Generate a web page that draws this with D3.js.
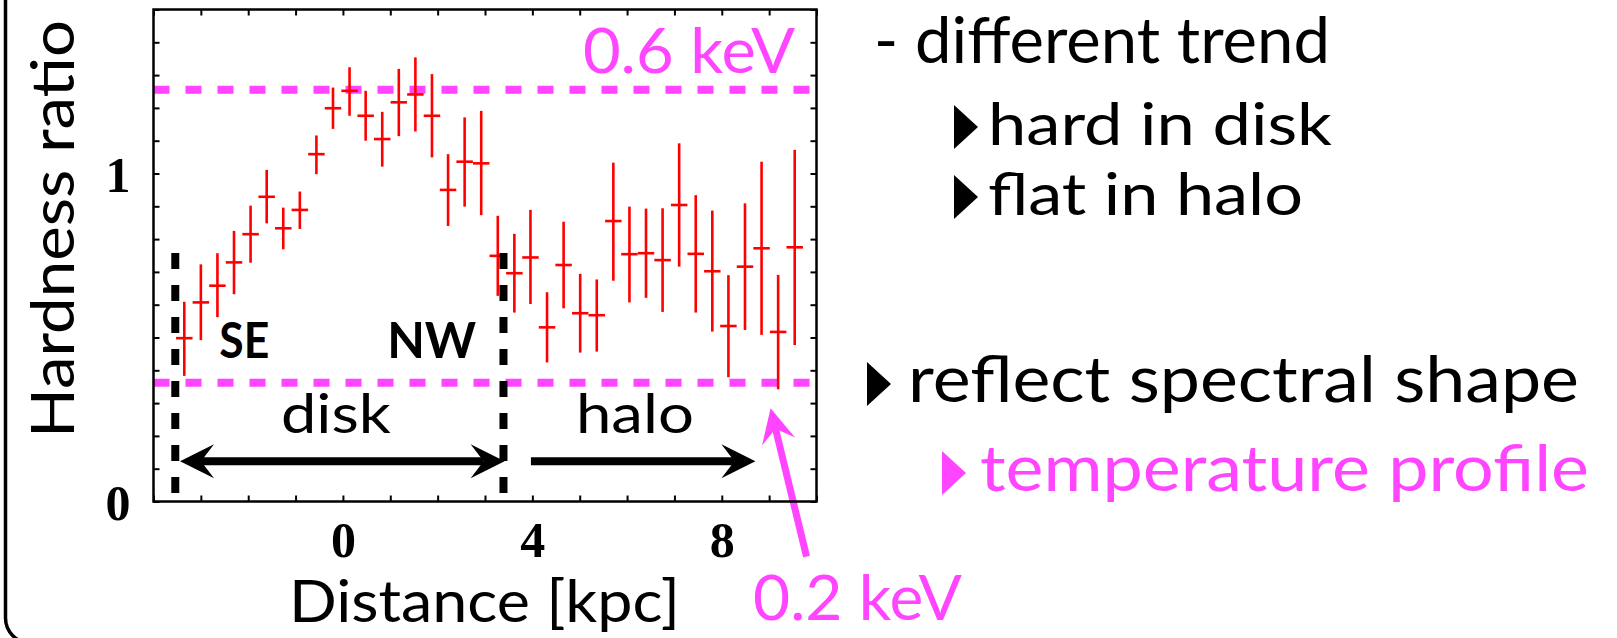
<!DOCTYPE html>
<html>
<head>
<meta charset="utf-8">
<script src="https://cdn.jsdelivr.net/npm/d3@7"></script>
<style>
  html, body { margin: 0; padding: 0; background: #ffffff; }
  svg { display: block; }
</style>
</head>
<body>
<svg id="chart" width="1617" height="638"></svg>
<script>
// Hardness ratio profile across the galaxy (SE -> NW, disk -> halo)
const distance = [-3.35, -3.00, -2.65, -2.30, -1.95, -1.61, -1.26, -0.91, -0.56, -0.21,
                   0.14,  0.48,  0.83,  1.18,  1.53,  1.88,  2.22,  2.57,  2.92,  3.27,
                   3.62,  3.96,  4.31,  4.66,  5.01,  5.36,  5.71,  6.05,  6.40,  6.75,
                   7.10,  7.45,  7.80,  8.14,  8.49,  8.84,  9.19,  9.54];
const binHalfWidth = 0.174;
const hardness = [0.498, 0.607, 0.658, 0.729, 0.815, 0.929, 0.833, 0.889, 1.059, 1.199,
                  1.252, 1.176, 1.105, 1.217, 1.241, 1.176, 0.950, 1.036, 1.031, 0.749,
                  0.696, 0.744, 0.531, 0.721, 0.574, 0.568, 0.855, 0.754, 0.757, 0.736,
                  0.904, 0.755, 0.702, 0.535, 0.716, 0.772, 0.517, 0.775];
const hardnessLow = [0.383, 0.492, 0.562, 0.632, 0.728, 0.848, 0.769, 0.831, 0.998, 1.136,
                     1.176, 1.100, 1.021, 1.114, 1.128, 1.049, 0.840, 0.899, 0.873, 0.627,
                     0.576, 0.602, 0.424, 0.589, 0.454, 0.457, 0.673, 0.607, 0.621, 0.578,
                     0.716, 0.576, 0.518, 0.379, 0.523, 0.508, 0.342, 0.477];
const hardnessHigh = [0.609, 0.723, 0.757, 0.825, 0.902, 1.011, 0.896, 0.945, 1.116, 1.262,
                      1.324, 1.252, 1.188, 1.319, 1.354, 1.303, 1.059, 1.171, 1.191, 0.871,
                      0.816, 0.889, 0.638, 0.853, 0.694, 0.677, 1.033, 0.899, 0.893, 0.894,
                      1.092, 0.934, 0.887, 0.690, 0.909, 1.036, 0.691, 1.072];

// Reference levels for plasma temperatures
const levelValues = [1.255, 0.362];
const levelLabels = ["0.6 keV", "0.2 keV"];

// Region boundaries (kpc)
const boundaries = [-3.54, 3.39];

// Axis ticks
const xTickValues = [-4, -3, -2, -1, 0, 1, 2, 3, 4, 5, 6, 7, 8, 9, 10];
const xTickLabels = [0, 4, 8];
const yTickValues = [0, 0.1, 0.2, 0.3, 0.4, 0.5, 0.6, 0.7, 0.8, 0.9, 1.0, 1.1, 1.2, 1.3, 1.4, 1.5];
const yTickLabels = [0, 1];

const PINK = "#ff45ff";
const RED = "#ff0000";
const SANS = "Lato, 'Open Sans', 'DejaVu Sans', sans-serif";
const SERIF = "'Liberation Serif', 'DejaVu Serif', serif";

const svg = d3.select("#chart");

const x = d3.scaleLinear().domain([-4, 10]).range([153.5, 816.5]);
const y = d3.scaleLinear().domain([0, 1.5]).range([501.5, 9.5]);

// rounded slide box at the left
svg.append("rect")
  .attr("x", 5.5).attr("y", -40)
  .attr("width", 1800).attr("height", 683)
  .attr("rx", 25).attr("ry", 25)
  .attr("fill", "none").attr("stroke", "#000").attr("stroke-width", 3.5);

const plot = svg.append("g");

// temperature reference levels
plot.selectAll("line.level")
  .data(levelValues)
  .join("line")
  .attr("class", "level")
  .attr("x1", x(-4)).attr("x2", x(10))
  .attr("y1", d => y(d)).attr("y2", d => y(d))
  .attr("stroke", PINK).attr("stroke-width", 8)
  .attr("stroke-dasharray", "16 16");

// error bars
const bars = plot.append("g");
distance.forEach((d, i) => {
  bars.append("line")
    .attr("x1", x(d)).attr("x2", x(d))
    .attr("y1", y(hardnessLow[i])).attr("y2", y(hardnessHigh[i]))
    .attr("stroke", RED).attr("stroke-width", 2.6);
  bars.append("line")
    .attr("x1", x(d - binHalfWidth)).attr("x2", x(d + binHalfWidth))
    .attr("y1", y(hardness[i])).attr("y2", y(hardness[i]))
    .attr("stroke", RED).attr("stroke-width", 2.6);
});

// disk / halo boundaries
plot.selectAll("line.bound")
  .data(boundaries)
  .join("line")
  .attr("class", "bound")
  .attr("x1", d => x(d)).attr("x2", d => x(d))
  .attr("y1", y(0.758)).attr("y2", y(0.026))
  .attr("stroke", "#000").attr("stroke-width", 8)
  .attr("stroke-dasharray", "16 16");

// arrow helper: head polygon with swept-back barbs
function headPoints(tip, from, len, half, notch) {
  const dx = tip[0] - from[0], dy = tip[1] - from[1];
  const L = Math.hypot(dx, dy);
  const ux = dx / L, uy = dy / L, px = -uy, py = ux;
  const bx = tip[0] - ux * len, by = tip[1] - uy * len;
  const n = [tip[0] - ux * notch, tip[1] - uy * notch];
  return {
    poly: [tip, [bx + px * half, by + py * half], n, [bx - px * half, by - py * half]],
    notch: n
  };
}
function drawArrow(g, from, to, color, width, both) {
  const hTo = headPoints(to, from, 34, 17, 21);
  let start = from;
  if (both) {
    const hFrom = headPoints(from, to, 34, 17, 21);
    g.append("polygon").attr("points", hFrom.poly.map(p => p.join(",")).join(" ")).attr("fill", color);
    start = hFrom.notch;
  }
  g.append("line")
    .attr("x1", start[0]).attr("y1", start[1])
    .attr("x2", hTo.notch[0]).attr("y2", hTo.notch[1])
    .attr("stroke", color).attr("stroke-width", width);
  g.append("polygon").attr("points", hTo.poly.map(p => p.join(",")).join(" ")).attr("fill", color);
}

const ann = svg.append("g");
drawArrow(ann, [x(-3.44), y(0.123)], [x(3.414), y(0.123)], "#000", 8, true);
drawArrow(ann, [x(3.97), y(0.123)], [x(8.71), y(0.123)], "#000", 8, false);
drawArrow(ann, [x(9.79), y(-0.168)], [x(9.03), y(0.284)], PINK, 7, false);

// region labels
ann.append("text").text("disk")
  .attr("x", x(-0.148)).attr("y", y(0.209))
  .attr("text-anchor", "middle")
  .attr("font-family", SANS).attr("font-size", 55)
  .attr("textLength", 110).attr("lengthAdjust", "spacingAndGlyphs");
ann.append("text").text("halo")
  .attr("x", x(6.166)).attr("y", y(0.209))
  .attr("text-anchor", "middle")
  .attr("font-family", SANS).attr("font-size", 55)
  .attr("textLength", 118).attr("lengthAdjust", "spacingAndGlyphs");
ann.append("text").text("SE")
  .attr("x", x(-2.612)).attr("y", y(0.4366))
  .attr("font-family", SANS).attr("font-weight", "bold").attr("font-size", 50)
  .attr("textLength", 50).attr("lengthAdjust", "spacingAndGlyphs");
ann.append("text").text("NW")
  .attr("x", x(0.935)).attr("y", y(0.4366))
  .attr("font-family", SANS).attr("font-weight", "bold").attr("font-size", 50)
  .attr("textLength", 89).attr("lengthAdjust", "spacingAndGlyphs");

// level labels
ann.append("text").text(levelLabels[0])
  .attr("x", x(9.544)).attr("y", y(1.306))
  .attr("text-anchor", "end")
  .attr("font-family", SANS).attr("font-size", 62).attr("fill", PINK)
  .attr("textLength", 212).attr("lengthAdjust", "spacingAndGlyphs");
ann.append("text").text(levelLabels[1])
  .attr("x", 753).attr("y", 620)
  .attr("font-family", SANS).attr("font-size", 62).attr("fill", PINK)
  .attr("textLength", 209).attr("lengthAdjust", "spacingAndGlyphs");

// axes with inward ticks on all four sides
function styleAxis(g) {
  g.select(".domain").remove();
  g.selectAll(".tick line").attr("stroke", "#000").attr("stroke-width", 2);
  g.selectAll(".tick text")
    .attr("font-family", SERIF).attr("font-weight", "bold")
    .attr("font-size", 50).attr("fill", "#000");
}
const fmtX = d => xTickLabels.includes(d) ? String(d) : "";
const fmtY = d => yTickLabels.includes(d) ? String(d) : "";

svg.append("g").attr("transform", `translate(0,${y(0)})`)
  .call(d3.axisBottom(x).tickValues(xTickValues).tickSizeInner(-6).tickSizeOuter(0)
        .tickPadding(20).tickFormat(fmtX))
  .call(styleAxis);
svg.append("g").attr("transform", `translate(0,${y(1.5)})`)
  .call(d3.axisTop(x).tickValues(xTickValues).tickSizeInner(-6).tickSizeOuter(0).tickFormat(""))
  .call(styleAxis);
svg.append("g").attr("transform", `translate(${x(-4)},0)`)
  .call(d3.axisLeft(y).tickValues(yTickValues).tickSizeInner(-6).tickSizeOuter(0)
        .tickPadding(23).tickFormat(fmtY))
  .call(styleAxis)
  .call(g => g.selectAll(".tick text").attr("dy", "0.36em"));
svg.append("g").attr("transform", `translate(${x(10)},0)`)
  .call(d3.axisRight(y).tickValues(yTickValues).tickSizeInner(-6).tickSizeOuter(0).tickFormat(""))
  .call(styleAxis);

// plot frame
svg.append("rect")
  .attr("x", x(-4)).attr("y", y(1.5))
  .attr("width", x(10) - x(-4)).attr("height", y(0) - y(1.5))
  .attr("fill", "none").attr("stroke", "#000").attr("stroke-width", 2.5);

// axis titles
svg.append("text").text("Distance [kpc]")
  .attr("x", 289).attr("y", 621.7)
  .attr("font-family", SANS).attr("font-size", 58)
  .attr("textLength", 391).attr("lengthAdjust", "spacingAndGlyphs");
svg.append("text").text("Hardness ratio")
  .attr("transform", "translate(74,229) rotate(-90)")
  .attr("text-anchor", "middle")
  .attr("font-family", SANS).attr("font-size", 60)
  .attr("textLength", 418).attr("lengthAdjust", "spacingAndGlyphs");

// bullet notes on the right
const notes = svg.append("g").attr("font-family", SANS).attr("font-size", 63);
function bullet(xl, base, color) {
  notes.append("polygon")
    .attr("points", [[xl, base - 40], [xl + 24, base - 18], [xl, base + 4]].map(p => p.join(",")).join(" "))
    .attr("fill", color);
}
notes.append("text").text("- different trend")
  .attr("x", 874).attr("y", 63)
  .attr("textLength", 456).attr("lengthAdjust", "spacingAndGlyphs");
bullet(954, 145, "#000");
notes.append("text").text("hard in disk")
  .attr("x", 988).attr("y", 145).attr("font-size", 58)
  .attr("textLength", 344).attr("lengthAdjust", "spacingAndGlyphs");
bullet(954, 215, "#000");
notes.append("text").text("flat in halo")
  .attr("x", 988).attr("y", 215).attr("font-size", 58)
  .attr("textLength", 315).attr("lengthAdjust", "spacingAndGlyphs");
bullet(867, 402, "#000");
notes.append("text").text("reflect spectral shape")
  .attr("x", 908).attr("y", 402)
  .attr("textLength", 671).attr("lengthAdjust", "spacingAndGlyphs");
bullet(942, 491, PINK);
notes.append("text").text("temperature profile")
  .attr("x", 980).attr("y", 491).attr("fill", PINK)
  .attr("textLength", 609).attr("lengthAdjust", "spacingAndGlyphs");
</script>
</body>
</html>
